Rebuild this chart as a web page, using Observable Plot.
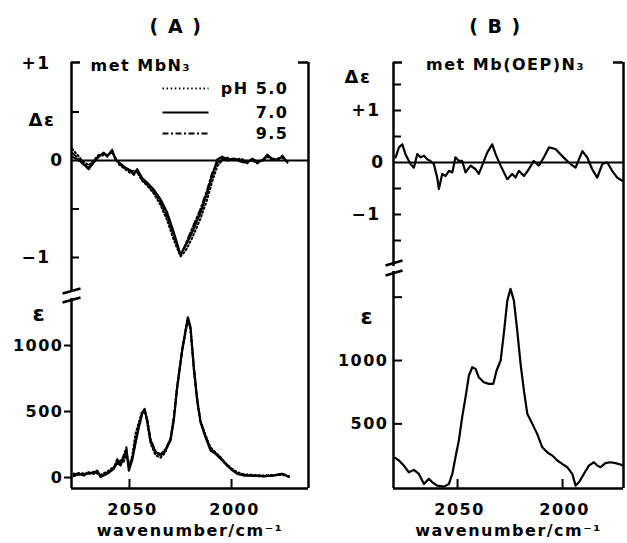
<!DOCTYPE html>
<html>
<head>
<meta charset="utf-8">
<script src="https://cdn.jsdelivr.net/npm/d3@7"></script>
<script src="https://cdn.jsdelivr.net/npm/@observablehq/plot@0.6"></script>
<style>
  html, body { margin: 0; padding: 0; background: #fff; }
  #chart { position: relative; width: 627px; height: 543px; overflow: hidden; background: #fff; }
  #chart svg { position: absolute; }
</style>
</head>
<body>
<div id="chart"></div>
<script>
// ---------------- DATA ----------------
// Panel A, CD (Δε), metMbN3 at three pH values
const aCdWn = [2078.1, 2075.6, 2073.2, 2070.0, 2067.5, 2065.0, 2062.6, 2060.9, 2058.5, 2056.9, 2055.2, 2052.8, 2049.5, 2047.9, 2046.2, 2043.8, 2041.3, 2038.1, 2034.8, 2031.5, 2028.3, 2025.0, 2022.5, 2019.3, 2015.2, 2011.9, 2009.5, 2007.0, 2004.6, 2002.1, 1998.9, 1995.6, 1992.3, 1989.9, 1987.4, 1984.2, 1982.5, 1980.0, 1977.6, 1975.1, 1972.7];
const aCdPH7  = [0.04, 0.01, -0.02, -0.09, -0.02, 0.04, 0.08, 0.04, 0.11, 0.01, -0.02, -0.06, -0.11, -0.14, -0.09, -0.18, -0.23, -0.30, -0.40, -0.54, -0.74, -0.97, -0.88, -0.74, -0.54, -0.33, -0.16, 0.01, 0.04, 0.01, 0.02, 0.00, -0.02, 0.01, -0.02, 0.01, 0.06, 0.01, 0.01, 0.04, -0.02];
const aCdPH5  = [0.12, 0.06, 0.00, -0.05, 0.00, 0.06, 0.05, 0.06, 0.08, 0.03, -0.04, -0.08, -0.13, -0.10, -0.12, -0.21, -0.26, -0.34, -0.46, -0.62, -0.82, -0.99, -0.93, -0.80, -0.60, -0.40, -0.22, -0.06, 0.00, 0.03, 0.00, 0.02, -0.01, 0.00, -0.03, 0.02, 0.04, 0.00, 0.02, 0.03, -0.01];
const aCdPH95 = [0.08, 0.03, -0.03, -0.07, -0.01, 0.05, 0.07, 0.05, 0.10, 0.02, -0.03, -0.07, -0.10, -0.15, -0.11, -0.20, -0.25, -0.32, -0.43, -0.58, -0.78, -0.98, -0.86, -0.70, -0.50, -0.30, -0.13, -0.03, 0.02, 0.00, 0.01, -0.01, -0.03, 0.02, -0.01, 0.00, 0.05, 0.02, 0.00, 0.05, -0.02];

// Panel A, absorption (ε)
const aAbWn = [2077.3, 2074.9, 2072.4, 2070.0, 2067.5, 2065.8, 2064.2, 2060.9, 2057.7, 2056.0, 2054.4, 2052.8, 2051.5, 2050.3, 2048.7, 2047.1, 2045.4, 2043.8, 2042.6, 2041.3, 2039.7, 2037.3, 2034.8, 2032.4, 2029.9, 2028.3, 2026.6, 2024.2, 2022.5, 2021.4, 2020.1, 2018.5, 2016.8, 2015.2, 2012.7, 2010.3, 2007.8, 2005.4, 2002.9, 2000.5, 1997.2, 1994.0, 1989.1, 1984.2, 1979.3, 1975.1, 1971.9];
const aAbPH7  = [10, 28, 15, 40, 28, 53, 5, 28, 66, 116, 91, 154, 205, 53, 129, 255, 381, 482, 520, 432, 280, 192, 167, 205, 280, 432, 684, 962, 1114, 1214, 1139, 836, 583, 419, 305, 205, 179, 142, 104, 66, 28, 15, 15, 10, 15, 28, 5];
const aAbPH5  = [30, 20, 35, 25, 45, 30, 20, 45, 80, 100, 130, 120, 180, 90, 160, 330, 420, 500, 510, 410, 260, 170, 150, 190, 300, 460, 700, 975, 1120, 1200, 1120, 820, 570, 430, 320, 230, 190, 155, 110, 75, 40, 25, 20, 15, 20, 20, 10];
const aAbPH95 = [20, 35, 25, 30, 40, 45, 15, 35, 75, 140, 100, 170, 230, 70, 140, 270, 390, 490, 515, 440, 290, 200, 175, 215, 290, 440, 690, 955, 1105, 1205, 1130, 845, 595, 425, 310, 215, 185, 150, 100, 70, 30, 20, 12, 8, 18, 30, 8];

// Panel B, CD (Δε), metMb(OEP)N3
const bCdWn = [2079.5, 2077.9, 2076.3, 2074.8, 2072.4, 2070.8, 2069.2, 2067.6, 2066.0, 2064.4, 2062.9, 2061.3, 2059.7, 2058.9, 2057.3, 2055.7, 2054.1, 2052.5, 2051.0, 2049.4, 2047.8, 2046.2, 2043.8, 2041.4, 2039.9, 2038.3, 2035.9, 2033.5, 2031.9, 2029.5, 2026.3, 2024.0, 2022.4, 2020.8, 2018.4, 2016.1, 2013.7, 2011.3, 2008.9, 2006.5, 2003.4, 2001.0, 1998.6, 1996.2, 1993.8, 1990.6, 1988.3, 1985.9, 1983.5, 1981.1, 1978.7, 1976.4, 1974.0, 1971.6, 1970.0];
const bCdVal = [0.10, 0.29, 0.35, 0.16, -0.03, -0.10, 0.16, 0.10, 0.13, 0.06, 0.03, -0.03, -0.29, -0.51, -0.22, -0.26, -0.16, -0.19, 0.10, 0.03, 0.03, -0.19, -0.06, -0.13, -0.22, -0.06, 0.19, 0.35, 0.16, -0.06, -0.32, -0.22, -0.29, -0.16, -0.26, -0.13, 0.03, -0.06, 0.10, 0.29, 0.26, 0.16, 0.06, -0.03, -0.10, 0.22, 0.10, -0.13, -0.29, -0.03, 0.00, -0.16, -0.29, -0.35, -0.32];

// Panel B, absorption (ε)
const bAbWn = [2080.3, 2077.9, 2075.6, 2073.2, 2070.8, 2068.4, 2066.0, 2063.7, 2062.0, 2059.7, 2056.5, 2054.1, 2052.5, 2051.0, 2049.4, 2047.8, 2046.2, 2044.6, 2043.0, 2041.4, 2039.9, 2037.5, 2035.1, 2033.0, 2031.4, 2029.5, 2028.0, 2026.3, 2024.8, 2023.2, 2021.6, 2020.0, 2018.4, 2016.8, 2014.4, 2012.1, 2009.7, 2007.3, 2004.9, 2002.5, 2000.2, 1997.8, 1995.4, 1993.8, 1992.2, 1989.9, 1987.5, 1985.1, 1983.5, 1981.9, 1979.6, 1977.2, 1974.8, 1972.4, 1970.0];
const bAbVal = [237, 211, 171, 118, 137, 105, 26, 66, 39, 13, 5, 26, 105, 237, 368, 553, 711, 882, 947, 934, 868, 829, 816, 816, 921, 1000, 1211, 1474, 1566, 1474, 1237, 974, 763, 579, 500, 421, 316, 276, 250, 211, 184, 158, 105, 13, 39, 105, 171, 197, 171, 158, 190, 197, 190, 179, 158];

// Tick values and labels
const xTicks = [2050, 2000];
const aCdTicks = [-1, -0.5, 0, 0.5, 1];
const bCdTicks = [-1.5, -1, -0.5, 0, 0.5, 1, 1.5];
const aAbTicks = [0, 500, 1000];
const bAbTicks = [500, 1000, 1500];
const bAbLabelTicks = [500, 1000];
const legendLabels = ["pH 5.0", "7.0", "9.5"];
const titles = ["( A )", "( B )"];
const sampleNames = ["met MbN₃", "met Mb(OEP)N₃"];
const xLabel = "wavenumber/cm⁻¹";

// ---------------- LAYOUT ----------------
const chart = document.getElementById("chart");
function put(svg, left, top) {
  svg.style.left = left + "px";
  svg.style.top = top + "px";
  chart.appendChild(svg);
}
const baseStyle = {
  fontFamily: "'DejaVu Sans', sans-serif",
  fontSize: "16px",
  fontWeight: "bold",
  letterSpacing: "1.5px",
  color: "#000",
  background: "transparent",
  overflow: "visible"
};
const pair = (xs, ys) => xs.map((x, i) => [x, ys[i]]);
const fmtSigned = d => d === 0 ? "0" : (d > 0 ? "+1" : "−1");
const AXW = 2.5;  // axis stroke width
const LW = 2.2;   // data stroke width
const dash5 = "1.5,2.6";
const dash95 = "6,2.5,2,2.5";
const dashes = [dash5, null, dash95];
// pixel -> data helpers (for decorations: legend and axis-break marks)
const lin = (p0, p1, d0, d1) => p => d0 + (p - p0) / (p1 - p0) * (d1 - d0);

// Panel A geometry
const xDomA = [2078.4, 1962.3];
const aW = 320, aML = 71, aMR = 12, aFW = aW - aML - aMR;
const axAt = lin(aML, aW - aMR, xDomA[0], xDomA[1]);
// Panel B geometry
const xDomB = [2080.5, 1971.0];
const bW = 307, bML = 73, bMR = 4, bFW = bW - bML - bMR;
const bxAt = lin(bML, bW - bMR, xDomB[0], xDomB[1]);

// ---- A top (CD) ----
const yDomAT = [-1.361, 1.01];
const aTopH = 292;
const ayAt = lin(62, aTopH, yDomAT[1], yDomAT[0]);
const legendRowsPx = [88, 112, 133];
const legendRows = legendLabels.map((label, i) => ({label, dash: dashes[i], y: ayAt(legendRowsPx[i])}));
const legendLinks = legendRows.map(r => Plot.link([r], {
  x1: () => axAt(162), x2: () => axAt(208), y1: "y", y2: "y",
  strokeWidth: 2.2, ...(r.dash ? {strokeDasharray: r.dash} : {})
}));

const aTop = Plot.plot({
  width: aW, height: aTopH,
  marginLeft: aML, marginRight: aMR, marginTop: 62, marginBottom: 0,
  x: {domain: xDomA, axis: null},
  y: {domain: yDomAT, axis: null},
  style: baseStyle,
  marks: [
    Plot.ruleX([xDomA[0]], {strokeWidth: AXW}),
    Plot.ruleX([xDomA[1]], {strokeWidth: AXW}),
    Plot.tickY([yDomAT[1]], {insetRight: aFW - 9, strokeWidth: AXW}),
    Plot.tickY([yDomAT[1]], {insetLeft: aFW - 10, strokeWidth: AXW}),
    Plot.tickY(aCdTicks.filter(d => d !== 0 && d !== 1), {insetRight: aFW - 8, strokeWidth: 2}),
    Plot.ruleY([0], {strokeWidth: 2.2}),
    Plot.axisY({ticks: [0], label: null, tickSize: 0, tickPadding: 8, tickFormat: fmtSigned, fontSize: 17}),
    Plot.axisY({ticks: [-1, 1], label: null, tickSize: 0, tickPadding: 21, tickFormat: fmtSigned, fontSize: 17}),
    Plot.line(pair(aCdWn, aCdPH5), {strokeWidth: 2, strokeDasharray: dash5}),
    Plot.line(pair(aCdWn, aCdPH95), {strokeWidth: 2, strokeDasharray: dash95}),
    Plot.line(pair(aCdWn, aCdPH7), {strokeWidth: LW, strokeLinejoin: "round"}),
    // legend
    ...legendLinks,
    Plot.text(legendRows, {x: () => axAt(288), y: "y", text: "label", textAnchor: "end", fontSize: 16}),
    // texts
    Plot.text([titles[0]], {frameAnchor: "top", dx: -14, dy: -43, fontSize: 19}),
    Plot.text([sampleNames[0]], {frameAnchor: "top-left", dx: 19, dy: -3, textAnchor: "start", fontSize: 16}),
    Plot.text(["Δε"], {frameAnchor: "top-left", dx: -43, dy: 51, fontSize: 18})
  ]
});
put(aTop, 0, 0);

// ---- A bottom (absorption) ----
const yDomAB = [-83, 1401.5];
const aBotH = 251, aBotFH = aBotH - 55;
const abyAt = lin(0, aBotFH, yDomAB[1], yDomAB[0]);
const breakA = [
  {x1: axAt(62), y1: abyAt(1), x2: axAt(80), y2: abyAt(-4)},
  {x1: axAt(62), y1: abyAt(10), x2: axAt(80), y2: abyAt(5)}
];
const aBot = Plot.plot({
  width: aW, height: aBotH,
  marginLeft: aML, marginRight: aMR, marginTop: 0, marginBottom: 55,
  x: {domain: xDomA, axis: null},
  y: {domain: yDomAB, axis: null},
  style: baseStyle,
  marks: [
    Plot.ruleX([xDomA[0]], {y1: () => abyAt(6), y2: () => yDomAB[0], strokeWidth: AXW}),
    Plot.ruleX([xDomA[1]], {strokeWidth: AXW}),
    Plot.ruleY([yDomAB[0]], {strokeWidth: AXW}),
    Plot.link(breakA, {x1: "x1", y1: "y1", x2: "x2", y2: "y2", strokeWidth: 2.5}),
    Plot.axisY({ticks: aAbTicks, label: null, tickSize: 7, tickPadding: 1, strokeWidth: 2, tickFormat: d3.format("d"), fontSize: 16}),
    Plot.tickX(xTicks, {insetTop: aBotFH - 9, strokeWidth: 2}),
    Plot.axisX({ticks: xTicks, label: null, tickSize: 0, tickPadding: 15, tickFormat: d3.format("d"), fontSize: 16, dx: 3}),
    Plot.text([xLabel], {frameAnchor: "bottom", dy: 47, fontSize: 16, fill: "#000"}),
    Plot.text(["ε"], {frameAnchor: "top-left", dx: -39, dy: 13, fontSize: 22}),
    Plot.line(pair(aAbWn, aAbPH5), {strokeWidth: 2, strokeDasharray: dash5}),
    Plot.line(pair(aAbWn, aAbPH95), {strokeWidth: 2, strokeDasharray: dash95}),
    Plot.line(pair(aAbWn, aAbPH7), {strokeWidth: LW, strokeLinejoin: "round"})
  ]
});
put(aBot, 0, aTopH);

// ---- B top (CD) ----
const yDomBT = [-2.0, 1.923];
const bTopH = 266;
const bTop = Plot.plot({
  width: bW, height: bTopH,
  marginLeft: bML, marginRight: bMR, marginTop: 62, marginBottom: 0,
  x: {domain: xDomB, axis: null},
  y: {domain: yDomBT, axis: null},
  style: baseStyle,
  marks: [
    Plot.ruleX([xDomB[0]], {strokeWidth: AXW}),
    Plot.ruleX([xDomB[1]], {strokeWidth: AXW}),
    Plot.tickY([yDomBT[1]], {insetRight: bFW - 9, strokeWidth: AXW}),
    Plot.tickY([yDomBT[1]], {insetLeft: bFW - 10, strokeWidth: AXW}),
    Plot.tickY(bCdTicks.filter(d => d !== 0), {insetRight: bFW - 8, strokeWidth: 2}),
    Plot.ruleY([0], {strokeWidth: 2.2}),
    Plot.axisY({ticks: [0], label: null, tickSize: 0, tickPadding: 9, tickFormat: fmtSigned, fontSize: 17}),
    Plot.axisY({ticks: [-1, 1], label: null, tickSize: 0, tickPadding: 13, tickFormat: fmtSigned, fontSize: 17}),
    Plot.line(pair(bCdWn, bCdVal), {strokeWidth: LW, strokeLinejoin: "round", clip: true}),
    Plot.text([titles[1]], {frameAnchor: "top", dx: -13, dy: -43, fontSize: 19}),
    Plot.text([sampleNames[1]], {frameAnchor: "top", dx: -3, dy: -4, fontSize: 16}),
    Plot.text(["Δε"], {frameAnchor: "top-left", dx: -49, dy: 8, fontSize: 18})
  ]
});
put(bTop, aW, 0);

// ---- B bottom (absorption) ----
const yDomBB = [-10, 1742];
const bBotH = 277, bBotFH = bBotH - 55;
const bbyAt = lin(0, bBotFH, yDomBB[1], yDomBB[0]);
const breakB = [
  {x1: bxAt(65), y1: bbyAt(-1), x2: bxAt(82), y2: bbyAt(-6)},
  {x1: bxAt(65), y1: bbyAt(9), x2: bxAt(82), y2: bbyAt(4)}
];
const bBot = Plot.plot({
  width: bW, height: bBotH,
  marginLeft: bML, marginRight: bMR, marginTop: 0, marginBottom: 55,
  x: {domain: xDomB, axis: null},
  y: {domain: yDomBB, axis: null},
  style: baseStyle,
  marks: [
    Plot.ruleX([xDomB[0]], {y1: () => bbyAt(5), y2: () => yDomBB[0], strokeWidth: AXW}),
    Plot.ruleX([xDomB[1]], {strokeWidth: AXW}),
    Plot.ruleY([yDomBB[0]], {strokeWidth: AXW}),
    Plot.link(breakB, {x1: "x1", y1: "y1", x2: "x2", y2: "y2", strokeWidth: 2.5}),
    Plot.tickY(bAbTicks, {insetRight: bFW - 9, strokeWidth: 2}),
    Plot.axisY({ticks: bAbLabelTicks, label: null, tickSize: 0, tickPadding: 5, tickFormat: d3.format("d"), fontSize: 16}),
    Plot.tickX(xTicks, {insetTop: bBotFH - 9, strokeWidth: 2}),
    Plot.axisX({ticks: xTicks, label: null, tickSize: 0, tickPadding: 15, tickFormat: d3.format("d"), fontSize: 16, dx: 2}),
    Plot.text([xLabel], {frameAnchor: "bottom", dy: 47, fontSize: 16, fill: "#000"}),
    Plot.text(["ε"], {frameAnchor: "top-left", dx: -33, dy: 42, fontSize: 22}),
    Plot.line(pair(bAbWn, bAbVal), {strokeWidth: LW, strokeLinejoin: "round", clip: true})
  ]
});
put(bBot, aW, bTopH);
</script>
</body>
</html>
